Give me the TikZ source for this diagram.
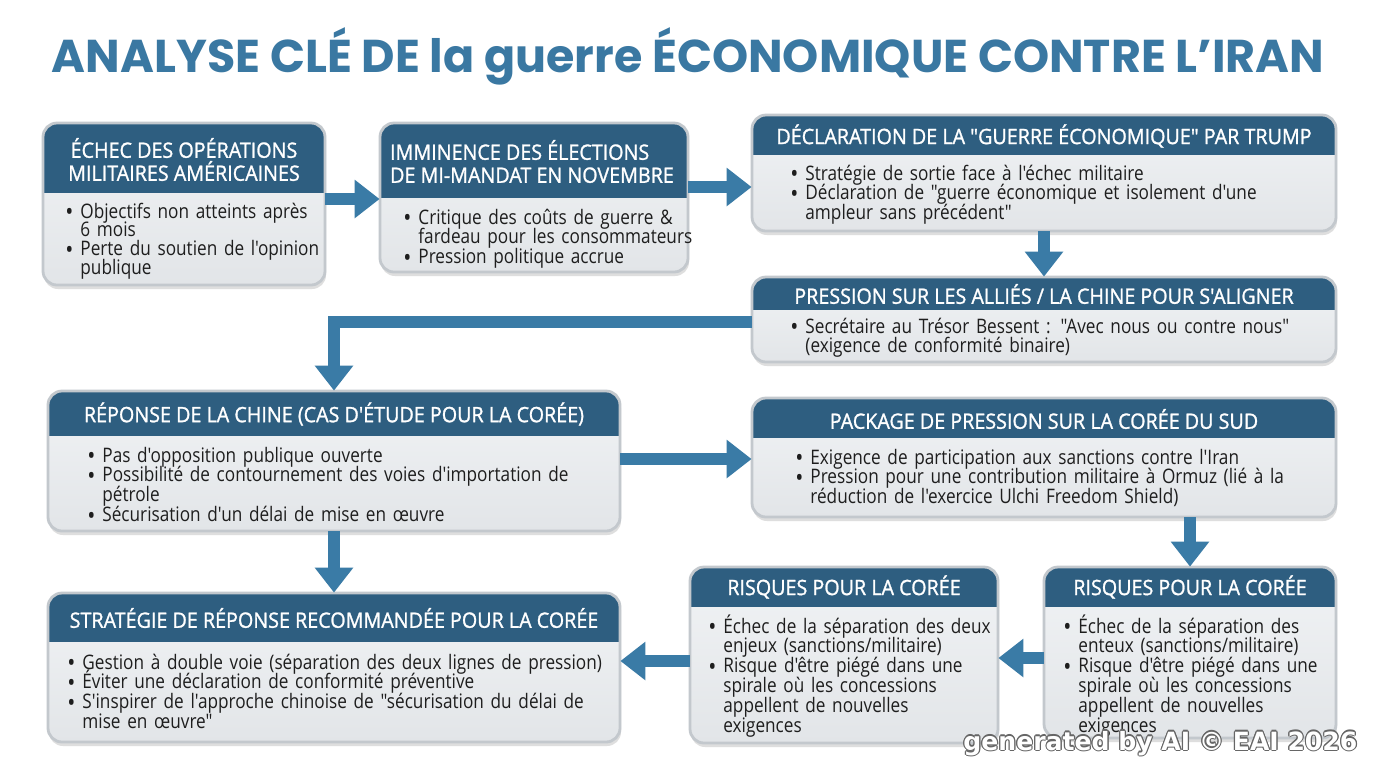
\documentclass[tikz,border=0pt]{standalone}
\usepackage{fontspec}
\usepackage{graphicx}
\setmainfont{Open Sans}[FakeStretch=0.86, Ligatures=TeXOff]
\newfontfamily\headfont{Open Sans}[FakeStretch=0.93, FakeBold=1.2, Ligatures=TeXOff]
\newfontfamily\titlefont{Poppins}
\newfontfamily\wmfont{DejaVu Sans}
\usetikzlibrary{arrows.meta,fit}

\definecolor{headc}{HTML}{2E5E80}
\definecolor{arrc}{HTML}{3A7BA6}
\definecolor{titlec}{HTML}{3A78A2}
\definecolor{bodytop}{HTML}{F1F3F5}
\definecolor{bodybot}{HTML}{E2E5E8}
\definecolor{bordc}{HTML}{C3C8CD}
\definecolor{txtc}{HTML}{1E1E1E}

\newcommand\bl[1]{\noindent\hangindent=7.5pt\hangafter=1\hbox to 7.5pt{\raisebox{-1.2pt}{\fontsize{12.5}{12.5}\selectfont\textbullet}\hfil}#1\par}

\newcommand\card[6]{%
  \fill[black!13, rounded corners=7pt] (#2+1,#3+3) rectangle (#4+1,#5+4);
  \shade[top color=bodytop, bottom color=bodybot, rounded corners=7pt] (#2,#3) rectangle (#4,#5);
  \begin{scope}
    \clip[rounded corners=7pt] (#2,#3) rectangle (#4,#5);
    \fill[headc] (#2,#3) rectangle (#4,#6);
  \end{scope}
  \draw[bordc, line width=1.4pt, rounded corners=7pt] (#2,#3) rectangle (#4,#5);
  \path (#2,#3) coordinate (#1-a) (#4,#5) coordinate (#1-b);
  \node[fit=(#1-a)(#1-b), inner sep=0pt] (#1) {};
}

\tikzset{
  headtxt/.style={font=\headfont\fontsize{10.6}{11.5}\selectfont, text=white, align=center, inner sep=0pt},
  bodytxt/.style={anchor=base west, inner sep=0pt, font={\fontsize{10}{9.95}\selectfont\lineskiplimit=-30pt\relax}, text=txtc, align=left},
  arr/.style={draw=arrc, line width=6pt, -{Triangle[width=18.5pt,length=12.5pt]}}
}

\begin{document}
\begin{tikzpicture}[x=0.5pt, y=-0.5pt]
\useasboundingbox (0,0) rectangle (1376,768);
\fill[white] (0,0) rectangle (1376,768);

% title
\node[anchor=base, text=titlec, inner sep=0pt] (title) at (688,72)
  {\resizebox{636pt}{\height}{\titlefont\bfseries\fontsize{23}{23}\selectfont ANALYSE CLÉ DE la guerre ÉCONOMIQUE CONTRE L’IRAN}};

% boxes
\card{b1}{43}{123}{325}{285}{193}
\card{b2}{380}{123}{688}{272}{198}
\card{b3}{752}{115}{1336}{231}{155}
\card{b4}{752}{277}{1336}{362}{310}
\card{b5}{48}{391}{620}{531}{436}
\card{b6}{752}{398}{1336}{517}{438}
\card{b7}{1044}{567}{1336}{738}{607}
\card{b8}{690}{567}{998}{743}{607}
\card{b9}{48}{593}{620}{742}{642}

% headers
\node[headtxt] (h1) at (184,159.5) {ÉCHEC DES OPÉRATIONS\\MILITAIRES AMÉRICAINES};
\node[headtxt, align=left] (h2) at (532,161.5) {IMMINENCE DES ÉLECTIONS\\DE MI-MANDAT EN NOVEMBRE};
\node[headtxt] (h3) at (1044,136) {DÉCLARATION DE LA "GUERRE ÉCONOMIQUE" PAR TRUMP};
\node[headtxt] (h4) at (1044,294) {PRESSION SUR LES ALLIÉS / LA CHINE POUR S'ALIGNER};
\node[headtxt] (h5) at (334,414) {RÉPONSE DE LA CHINE (CAS D'ÉTUDE POUR LA CORÉE)};
\node[headtxt] (h6) at (1044,419) {PACKAGE DE PRESSION SUR LA CORÉE DU SUD};
\node[headtxt] (h7) at (1190,587) {RISQUES POUR LA CORÉE};
\node[headtxt] (h8) at (844,587) {RISQUES POUR LA CORÉE};
\node[headtxt] (h9) at (334,618) {STRATÉGIE DE RÉPONSE RECOMMANDÉE POUR LA CORÉE};

% bodies
\node[bodytxt, text width=140pt, font={\fontsize{10}{9.4}\selectfont\lineskiplimit=-30pt\relax}] (t1) at (65,218)
  {\bl{Objectifs non atteints après\newline 6 mois}\bl{Perte du soutien de l'opinion\newline publique}};
\node[bodytxt, text width=150pt] (t2) at (403,224)
  {\bl{Critique des coûts de guerre \&\newline fardeau pour les consommateurs}\bl{Pression politique accrue}};
\node[bodytxt, text width=271pt] (t3) at (790,180)
  {\bl{Stratégie de sortie face à l'échec militaire}\bl{Déclaration de "guerre économique et isolement d'une\newline ampleur sans précédent"}};
\node[bodytxt, text width=271pt] (t4) at (790,333)
  {\bl{Secrétaire au Trésor Bessent : "Avec nous ou contre nous"\newline (exigence de conformité binaire)}};
\node[bodytxt, text width=266pt] (t5) at (87,462)
  {\bl{Pas d'opposition publique ouverte}\bl{Possibilité de contournement des voies d'importation de\newline pétrole}\bl{Sécurisation d'un délai de mise en œuvre}};
\node[bodytxt, text width=268pt] (t6) at (795,464)
  {\bl{Exigence de participation aux sanctions contre l'Iran}\bl{Pression pour une contribution militaire à Ormuz (lié à la\newline réduction de l'exercice Ulchi Freedom Shield)}};
\node[bodytxt, text width=145pt] (t7) at (1063,633)
  {\bl{Échec de la séparation des\newline enteux (sanctions/militaire)}\bl{Risque d'être piégé dans une\newline spirale où les concessions\newline appellent de nouvelles\newline exigences}};
\node[bodytxt, text width=150pt] (t8) at (708,633)
  {\bl{Échec de la séparation des deux\newline enjeux (sanctions/militaire)}\bl{Risque d'être piégé dans une\newline spirale où les concessions\newline appellent de nouvelles\newline exigences}};
\node[bodytxt, text width=280pt] (t9) at (67,669)
  {\bl{Gestion à double voie (séparation des deux lignes de pression)}\bl{Éviter une déclaration de conformité préventive}\bl{S'inspirer de l'approche chinoise de "sécurisation du délai de\newline mise en œuvre"}};

% arrows
\draw[arr] (b1.east |- 0,199) -- (b2.west |- 0,199);
\draw[arr] (b2.east |- 0,187) -- (b3.west |- 0,187);
\draw[arr] (b3.south) -- (b4.north);
\draw[arr] (b4.west |- 0,322) -| (b5.north);
\draw[arr] (b5.east |- 0,459) -- (b6.west |- 0,459);
\draw[arr] (b5.south) -- (b9.north);
\draw[arr] (b7.north |- b6.south) -- (b7.north);
\draw[arr] (b7.west |- 0,658) -- (b8.east |- 0,658);
\draw[arr] (b8.west |- 0,661) -- (b9.east |- 0,661);

% watermark
\foreach \dx/\dy [count=\i] in {1.2/0,-1.2/0,0/1.2,0/-1.2,0.85/0.85,-0.85/0.85,0.85/-0.85,-0.85/-0.85}
  \node[anchor=base west, inner sep=0pt, text=black!60] (wm\i) at (963+\dx,750+\dy)
    {\resizebox{197pt}{!}{\wmfont\bfseries\fontsize{11}{11}\selectfont generated by AI © EAI 2026}};
\node[anchor=base west, inner sep=0pt, text=white] (wm) at (963,750)
  {\resizebox{197pt}{!}{\wmfont\bfseries\fontsize{11}{11}\selectfont generated by AI © EAI 2026}};
\end{tikzpicture}
\end{document}
